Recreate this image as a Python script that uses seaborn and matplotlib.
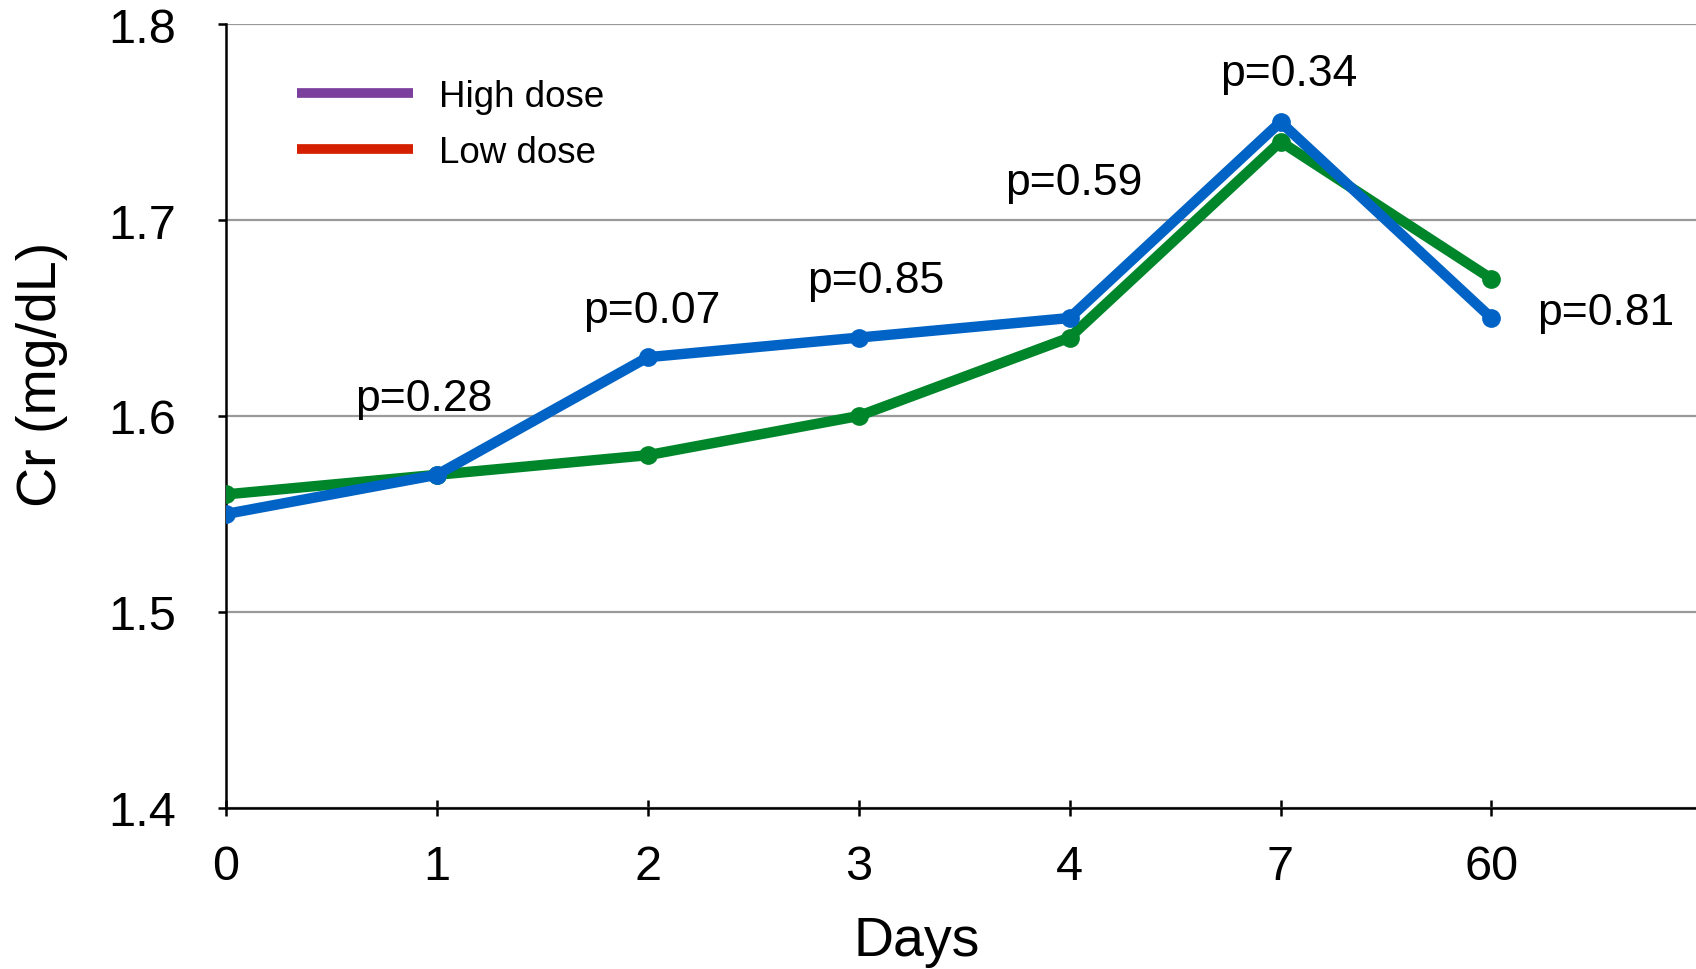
import matplotlib
matplotlib.use("Agg")
import matplotlib.pyplot as plt
from matplotlib.lines import Line2D
import seaborn as sns
import pandas as pd

days = ["0", "1", "2", "3", "4", "7", "60"]
blue_series = [1.55, 1.57, 1.63, 1.64, 1.65, 1.75, 1.65]
green_series = [1.56, 1.57, 1.58, 1.60, 1.64, 1.74, 1.67]
p_labels = ["p=0.28", "p=0.07", "p=0.85", "p=0.59", "p=0.34", "p=0.81"]
p_x = [0.94, 2.02, 3.08, 4.02, 5.04, 6.54]
p_y = [1.609, 1.654, 1.669, 1.719, 1.775, 1.653]
legend_labels = ["High dose", "Low dose"]
legend_colors = ["#7B3F9E", "#D42000"]

sns.set_theme(style="white")
plt.rcParams["font.family"] = ["Liberation Sans", "DejaVu Sans"]
plt.rcParams["text.color"] = "black"
plt.rcParams["axes.labelcolor"] = "black"
plt.rcParams["xtick.color"] = "black"
plt.rcParams["ytick.color"] = "black"

pos = list(range(len(days)))
df = pd.DataFrame({
    "pos": pos * 2,
    "cr": green_series + blue_series,
    "group": ["green"] * len(days) + ["blue"] * len(days),
})

fig = plt.figure(figsize=(16.96, 9.70), dpi=100)
ax = fig.add_axes([226 / 1696, 1 - 809 / 970, 1 - 226 / 1696, (809 - 25) / 970])

sns.lineplot(data=df, x="pos", y="cr", hue="group", hue_order=["green", "blue"],
             palette={"green": "#00862A", "blue": "#0063C5"}, marker="o",
             markersize=13.5, markeredgewidth=0, linewidth=7.5, legend=False, ax=ax,
             zorder=3)

ax.set_xlim(0, 6.97)
ax.set_ylim(1.4, 1.8)
ax.set_yticks([1.4, 1.5, 1.6, 1.7, 1.8])
ax.set_yticklabels(["1.4", "1.5", "1.6", "1.7", "1.8"])
ax.set_xticks(pos)
ax.set_xticklabels(days)
ax.yaxis.grid(True, color="#999999", linewidth=1.6)
ax.xaxis.grid(False)
ax.set_axisbelow(True)

for side in ["top", "right"]:
    ax.spines[side].set_visible(False)
for side in ["left", "bottom"]:
    ax.spines[side].set_color("black")
    ax.spines[side].set_linewidth(1.8)

ax.tick_params(axis="y", direction="out", length=6, width=1.8, color="black",
               labelcolor="black", labelsize=35, pad=30, left=True)
ax.tick_params(axis="x", direction="inout", length=12, width=1.8, color="black",
               labelcolor="black", labelsize=35, pad=20, bottom=True)

ax.set_xlabel("Days", fontsize=40, va="center", ha="center", color="black")
ax.set_ylabel("Cr (mg/dL)", fontsize=40, va="center", ha="center", color="black")
ax.xaxis.set_label_coords((917 - 226) / 1470, (809 - 942) / 784)
ax.yaxis.set_label_coords((42 - 226) / 1470, (809 - 374) / 784)

for lab, x, y in zip(p_labels, p_x, p_y):
    ax.text(x, y, lab, fontsize=32, ha="center", va="center", color="black")

handles = [Line2D([0], [0], color=c, lw=7, solid_capstyle="butt") for c in legend_colors]
ax.legend(handles, legend_labels, loc="upper left",
          bbox_to_anchor=((297 - 226) / 1470, (809 - 80) / 784),
          frameon=False, fontsize=26.5, handlelength=3.15, handletextpad=0.72,
          labelspacing=0.56, borderpad=0, borderaxespad=0, labelcolor="black")

fig.savefig("out.png", dpi=100)
